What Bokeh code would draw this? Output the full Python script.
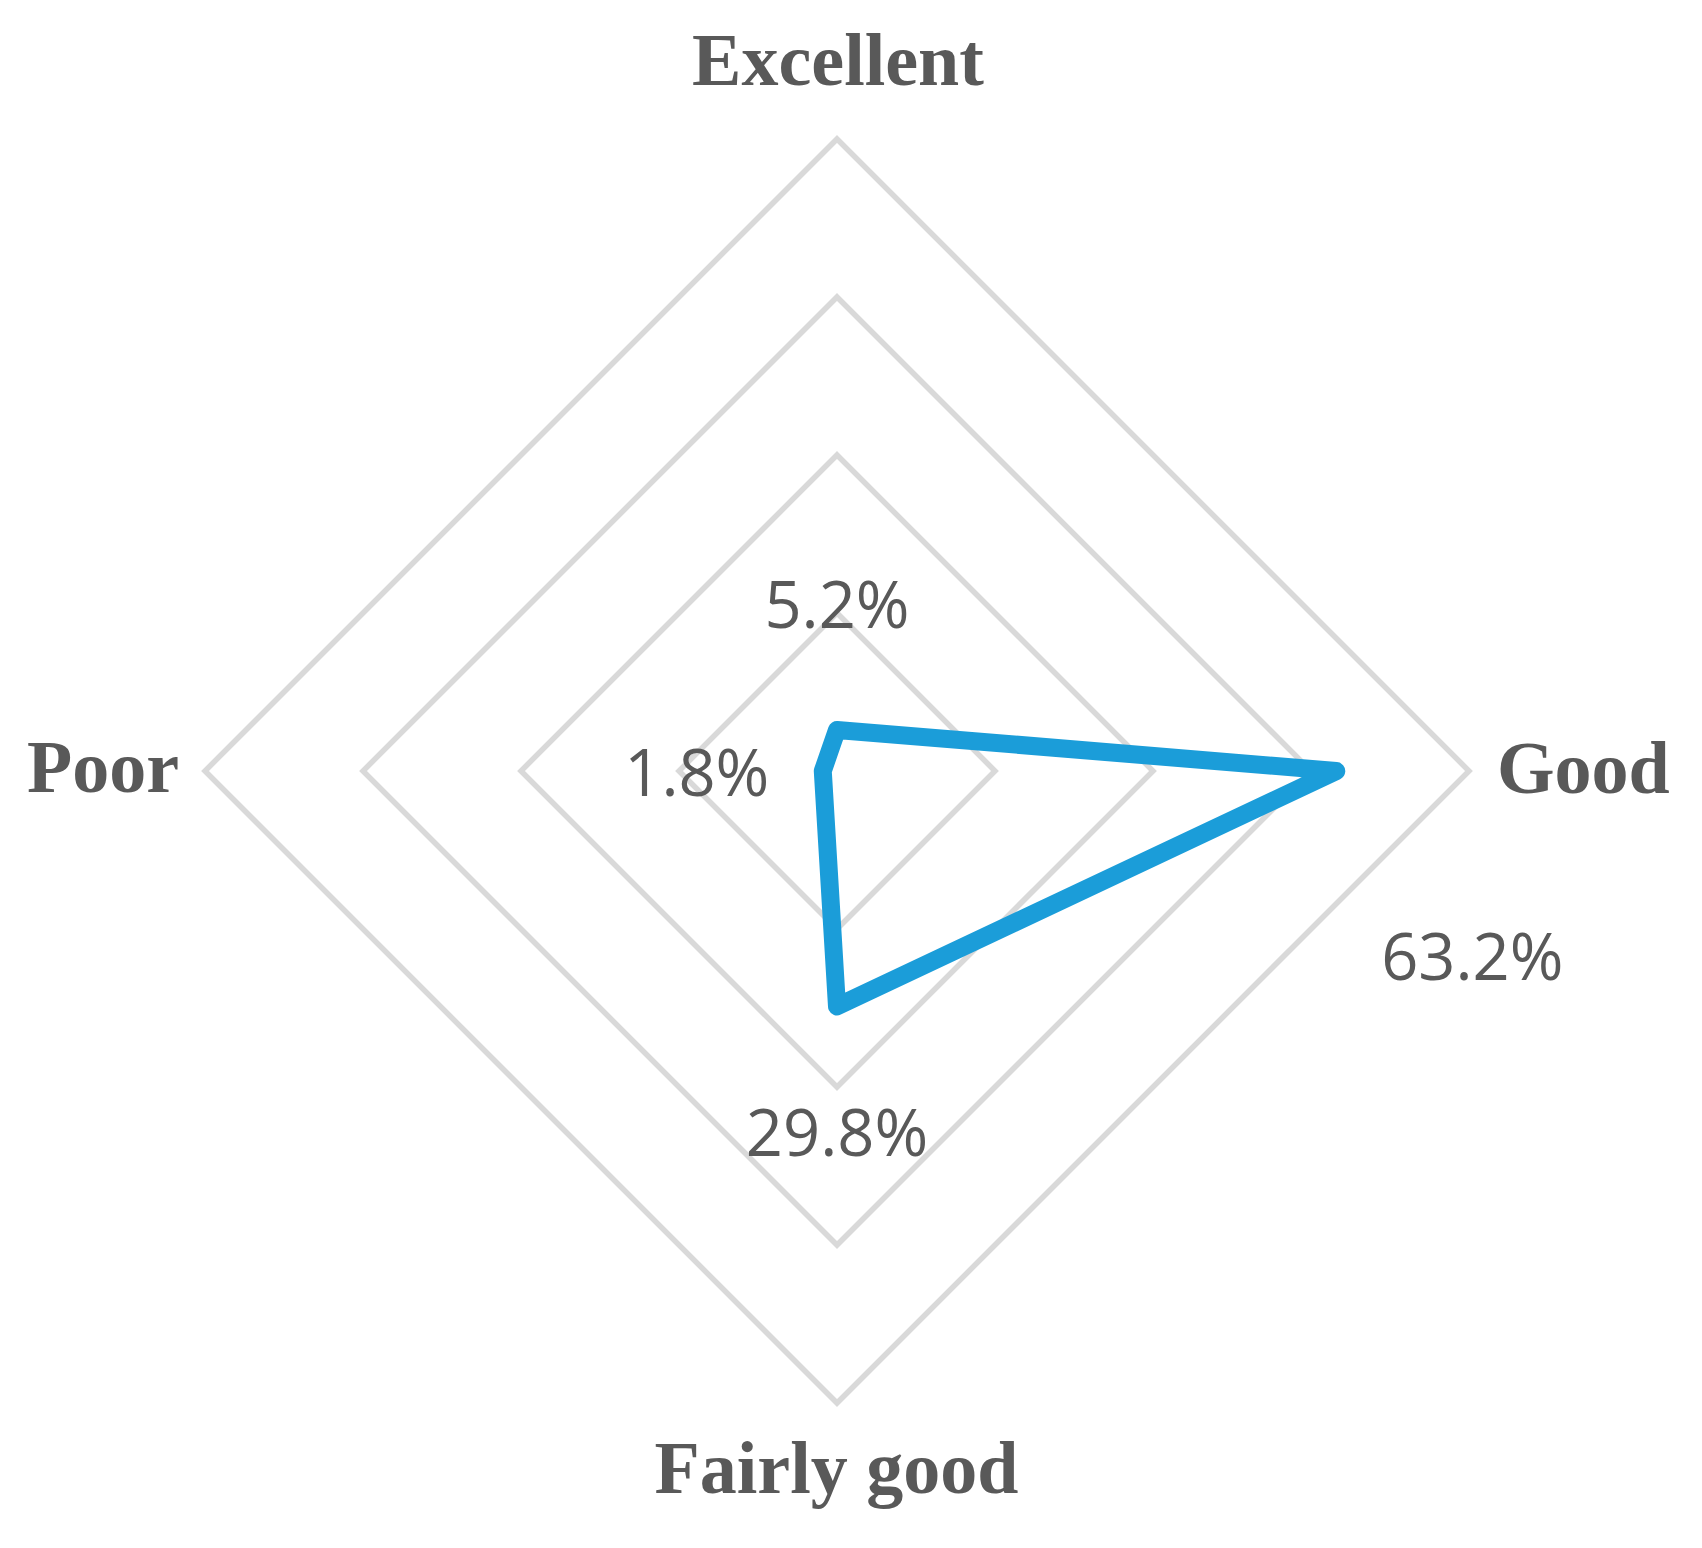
import math
from bokeh.plotting import figure
from bokeh.core.properties import value
from bokeh.embed import file_html
from bokeh.resources import INLINE

# ---- data ----
categories = ["Excellent", "Good", "Fairly good", "Poor"]
values = [0.052, 0.632, 0.298, 0.018]
value_labels = ["5.2%", "63.2%", "29.8%", "1.8%"]
grid_levels = [0.2, 0.4, 0.6, 0.8]
angles_deg = [90, 0, 270, 180]  # clockwise from top

# ---- layout (pixel geometry) ----
W, H = 1686, 1532
cx_px, cy_px = 836.5, 770.5   # centre in frame pixels
R_px = 632.0
rmax = grid_levels[-1]
s = R_px / rmax   # pixels per unit
TXT_SHIFT = 26.0  # compensation for text baseline placement (px)

x0 = -cx_px / s
x1 = (W - cx_px) / s
y0 = -(H - cy_px) / s
y1 = cy_px / s

p = figure(width=W, height=H, x_range=(x0, x1), y_range=(y0, y1),
           output_backend="svg", toolbar_location=None, min_border=0)
p.axis.visible = False
p.grid.visible = False
p.outline_line_color = None
p.background_fill_color = "white"
p.border_fill_color = "white"

def pt(r, a):
    t = math.radians(a)
    return r * math.cos(t), r * math.sin(t)

# grid diamonds
gx, gy = [], []
for lv in grid_levels:
    xs, ys = zip(*[pt(lv, a) for a in angles_deg])
    gx.append(list(xs)); gy.append(list(ys))
p.patches(gx, gy, fill_color=None, line_color="#d9d9d9", line_width=5.5,
          line_join="miter")

# data polygon
dx, dy = zip(*[pt(v, a) for v, a in zip(values, angles_deg)])
p.patch(list(dx), list(dy), fill_color=None, line_color="#1b9dd9",
        line_width=18, line_join="round")

# category labels (offsets in px from outer vertex)
cat_off = [(1, 53, "center"), (28, -22.5, "left"), (-0.5, -91, "center"), (-26, -21.5, "right")]
for c, a, (ox, oy, al) in zip(categories, angles_deg, cat_off):
    vx, vy = pt(rmax, a)
    p.text(x=[vx + ox / s], y=[vy + (oy + TXT_SHIFT) / s], text=[c],
           text_font=value("Liberation Serif"), text_font_style="bold",
           text_font_size="74px", text_color="#595959",
           text_align=al, text_baseline="alphabetic")

# value labels (offsets in px from the data point)
val_off = [(0, 101), (136, -209.5), (0, -151), (-126, -26)]
for lab, v, a, (ox, oy) in zip(value_labels, values, angles_deg, val_off):
    vx, vy = pt(v, a)
    p.text(x=[vx + ox / s], y=[vy + (oy + TXT_SHIFT) / s], text=[lab],
           text_font=value("Open Sans"), text_font_size="65px",
           text_color="#595959", text_align="center",
           text_baseline="alphabetic")

open("out.html", "w").write(file_html(p, INLINE))
